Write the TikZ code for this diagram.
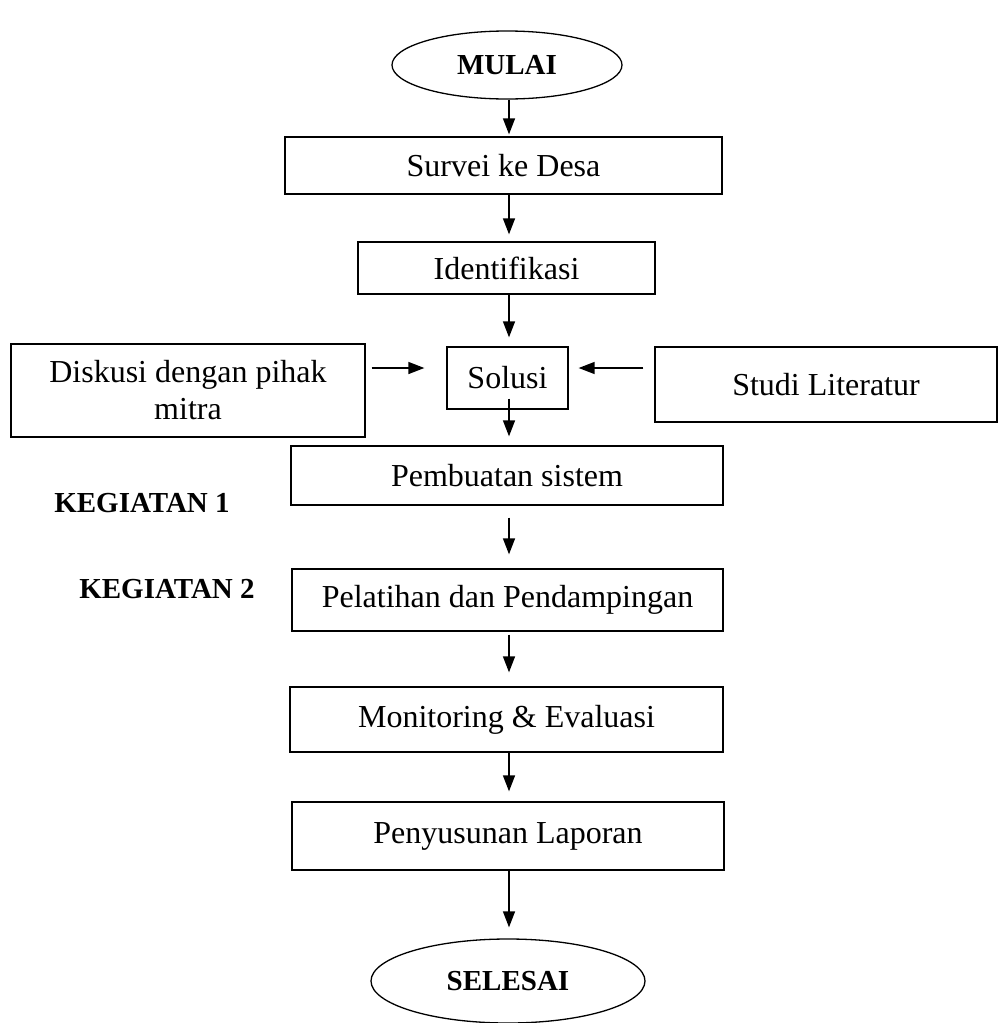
\documentclass[tikz,border=0pt]{standalone}
\usepackage{fontspec}
\setmainfont{Liberation Serif}
\usetikzlibrary{shapes.geometric,arrows.meta}
\begin{document}
\begin{tikzpicture}[x=1pt,y=-1pt,
  box/.style={draw,line width=1.3pt,rectangle,inner sep=0pt,font=\fontsize{32}{37}\selectfont},
  term/.style={draw,line width=1.3pt,ellipse,inner sep=0pt,font=\fontsize{29}{34}\selectfont\bfseries},
  lbl/.style={inner sep=0pt,font=\fontsize{29}{34}\selectfont\bfseries},
  arr/.style={line width=1.4pt,-{Triangle[length=16pt,width=12pt]}}]
\useasboundingbox (0,0) rectangle (998,1023);
% main column
\node[term,minimum width=230pt,minimum height=68pt] (mulai) at (507,65) {MULAI};
\node[box,minimum width=437pt,minimum height=57pt] (survei) at (503.5,165.5) {Survei ke Desa};
\node[box,minimum width=297pt,minimum height=52pt] (identifikasi) at (506.5,268) {Identifikasi};
\node[box,minimum width=121pt,minimum height=62pt] (solusi) at (507.5,378) {Solusi};
\node[box,minimum width=432pt,minimum height=59pt] (pembuatan) at (507,475.5) {Pembuatan sistem};
\node[box,minimum width=431pt,minimum height=62pt] (pelatihan) at (507.5,600) {Pelatihan dan Pendampingan};
\node[box,minimum width=433pt,minimum height=65pt] (monitoring) at (506.5,719.5) {Monitoring \& Evaluasi};
\node[box,minimum width=432pt,minimum height=68pt] (penyusunan) at (508,836) {Penyusunan Laporan};
\node[term,minimum width=274pt,minimum height=84pt] (selesai) at (508,981) {SELESAI};
% side boxes
\node[box,minimum width=354pt,minimum height=93pt,align=center] (diskusi) at (188,390.5) {Diskusi dengan pihak\\mitra};
\node[box,minimum width=342pt,minimum height=75pt] (studi) at (826,384.5) {Studi Literatur};
% labels
\node[lbl] (kegiatan1) at (142,503) {KEGIATAN 1};
\node[lbl] (kegiatan2) at (167,589) {KEGIATAN 2};
% arrows
\coordinate (spine) at (509,0); % x of the down arrows
\coordinate (mid) at ([yshift=10pt]solusi.center); % y of the side arrows
\draw[arr,shorten >=2pt] (mulai.south -| spine) -- (survei.north -| spine);
\draw[arr,shorten >=7pt] (survei.south -| spine) -- (identifikasi.north -| spine);
\draw[arr,shorten >=9pt] (identifikasi.south -| spine) -- (solusi.north -| spine);
\draw[arr,shorten <=-11pt,shorten >=9pt] (solusi.south -| spine) -- (pembuatan.north -| spine);
\draw[arr,shorten <=12pt,shorten >=14pt] (pembuatan.south -| spine) -- (pelatihan.north -| spine);
\draw[arr,shorten <=3pt,shorten >=14pt] (pelatihan.south -| spine) -- (monitoring.north -| spine);
\draw[arr,shorten >=10pt] (monitoring.south -| spine) -- (penyusunan.north -| spine);
\draw[arr,shorten >=11pt] (penyusunan.south -| spine) -- (selesai.north -| spine);
\draw[arr,shorten <=6pt,shorten >=22pt] (diskusi.east |- mid) -- (solusi.west |- mid);
\draw[arr,shorten <=11pt,shorten >=10pt] (studi.west |- mid) -- (solusi.east |- mid);
\end{tikzpicture}
\end{document}
